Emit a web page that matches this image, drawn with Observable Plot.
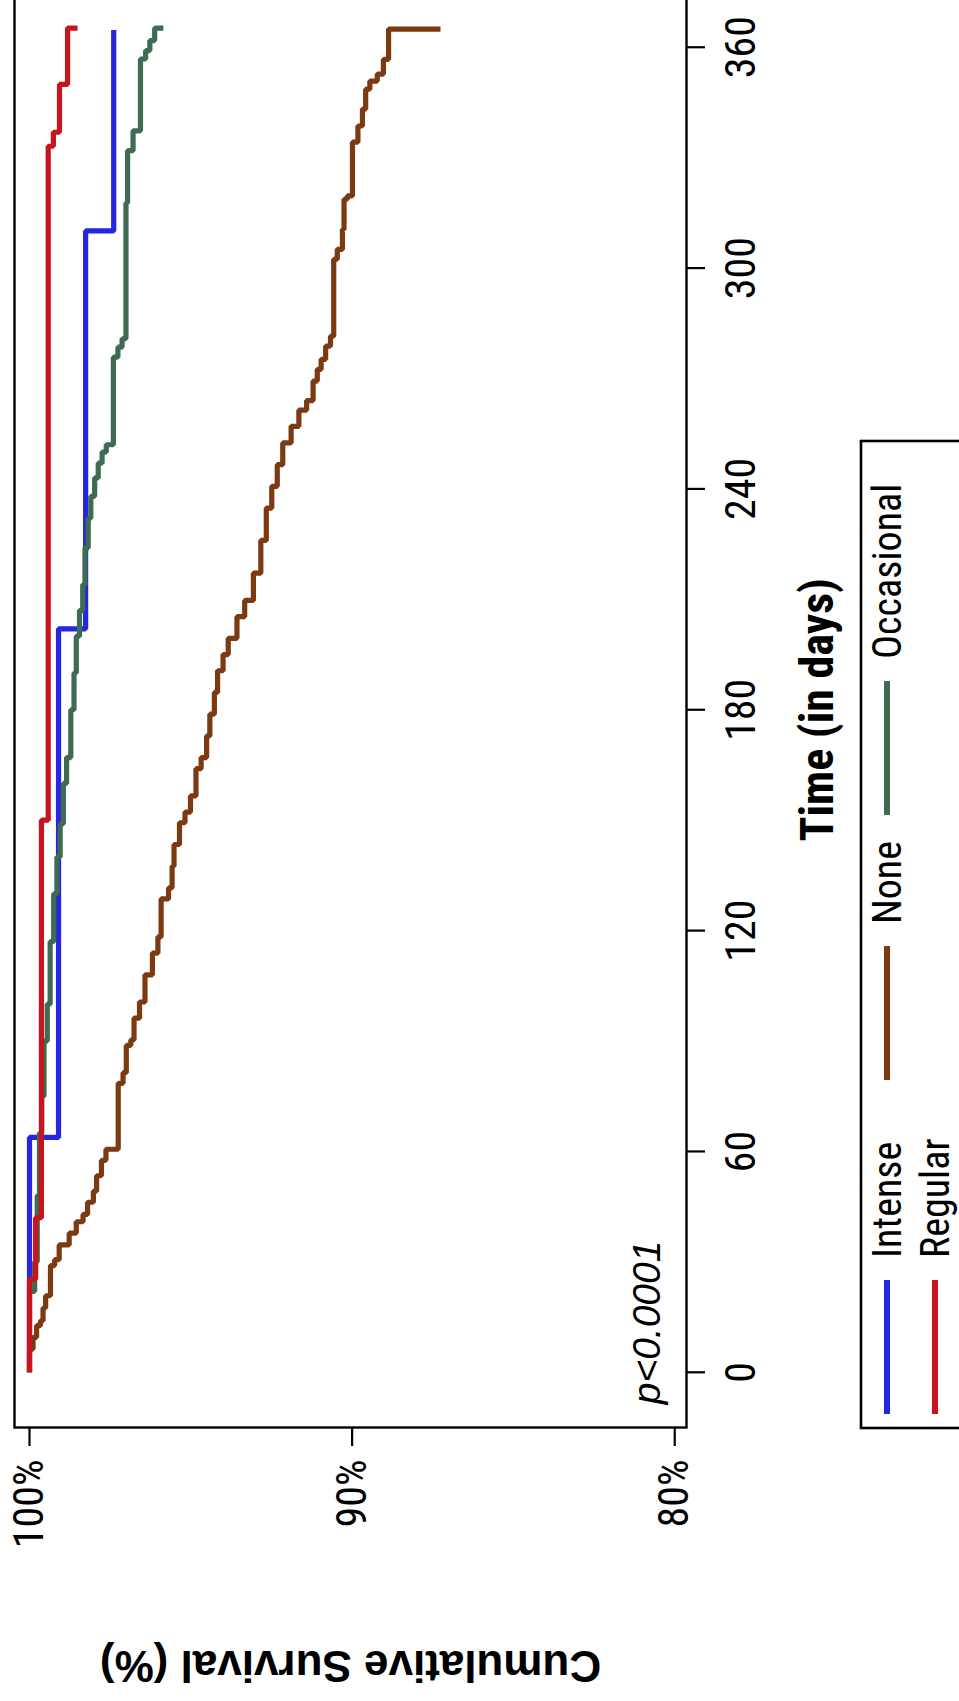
<!DOCTYPE html>
<html><head><meta charset="utf-8">
<script src="https://cdn.jsdelivr.net/npm/d3@7"></script>
<script src="https://cdn.jsdelivr.net/npm/@observablehq/plot@0.6"></script>
<style>
html,body{margin:0;padding:0;background:#fff;}
#page{position:relative;width:959px;height:1701px;overflow:hidden;background:#fff;}
#rot{position:absolute;left:0;top:0;width:1760px;height:959px;transform-origin:0 0;transform:translate(0px,1701px) rotate(-90deg);}
</style></head><body>
<div id="page"><div id="rot"></div></div>
<script>
const NARROW = "'Roboto Condensed','DejaVu Sans Condensed',sans-serif";
const REG = "'Liberation Sans',Arial,sans-serif";

// Groups, colours, ticks
const groups = ["Intense", "None", "Occasional", "Regular"];
const colors = ["#2626e2", "#7b3a12", "#3e6b52", "#c8141f"];
const timeTicks = [0, 60, 120, 180, 240, 300, 360];
const survTicks = [80, 90, 100];

// Kaplan-Meier step data: time (days) of each step and survival (%) after it
const intenseTime = [0, 63.8, 202, 310.1, 364.7];
const intenseSurv = [100, 99.10, 98.26, 97.39, 97.39];

const regularTime = [0, 25.3, 42, 150, 333.1, 336.9, 349.9, 365.2];
const regularSurv = [100, 99.81, 99.63, 99.42, 99.26, 99.07, 98.82, 98.51];

const occasionalTime = [0, 22, 30, 48, 65, 75, 90, 100, 117, 130, 140, 149, 160, 167, 180, 190, 200, 207, 214, 224, 232, 238, 243, 247, 250, 252, 275.8, 278.5, 280.8, 317.7, 331.9, 337.3, 356.8, 359.1, 361.8, 365.2];
const occasionalSurv = [100, 99.84, 99.76, 99.69, 99.62, 99.55, 99.45, 99.36, 99.25, 99.15, 99.05, 98.95, 98.85, 98.72, 98.62, 98.55, 98.45, 98.35, 98.28, 98.18, 98.10, 97.98, 97.87, 97.75, 97.62, 97.40, 97.26, 97.13, 97.01, 96.96, 96.79, 96.56, 96.40, 96.27, 96.12, 95.85];

const noneTime = [0, 6.3, 9.5, 12.7, 14, 17.5, 20.8, 29, 30.6, 34.6, 37.8, 40.9, 42.9, 46.2, 49.2, 53.4, 57.6, 60.6, 78.5, 81.4, 88.8, 90.3, 96.2, 100.6, 108, 113.9, 118.3, 128.6, 131.6, 137.5, 143.4, 149.3, 152.2, 156.6, 164, 167, 172.9, 178.8, 184.7, 190.6, 195, 199.4, 205.3, 209.7, 217.1, 226, 234.8, 240.7, 246.6, 252.5, 257, 261.4, 264, 269.3, 272.5, 275.2, 278.8, 281.5, 302.4, 305.1, 310.5, 318.7, 319.6, 334.2, 338.6, 343.2, 348.6, 350.8, 352.7, 356.7, 364.9];
const noneSurv = [100, 99.89, 99.78, 99.66, 99.58, 99.50, 99.35, 99.22, 99.08, 98.77, 98.55, 98.34, 98.20, 98.02, 97.92, 97.77, 97.63, 97.25, 97.10, 97.00, 96.86, 96.76, 96.59, 96.42, 96.19, 96.02, 95.92, 95.69, 95.58, 95.52, 95.35, 95.18, 95.01, 94.84, 94.68, 94.51, 94.41, 94.27, 94.17, 94.00, 93.84, 93.57, 93.33, 93.06, 92.83, 92.66, 92.49, 92.32, 92.15, 91.89, 91.65, 91.41, 91.21, 91.08, 90.96, 90.82, 90.67, 90.57, 90.46, 90.30, 90.25, 90.15, 89.99, 89.82, 89.68, 89.58, 89.45, 89.22, 89.03, 88.87, 87.26];

const series = {
  Intense: [intenseTime, intenseSurv],
  None: [noneTime, noneSurv],
  Occasional: [occasionalTime, occasionalSurv],
  Regular: [regularTime, regularSurv]
};
const rows = [];
for (const g of groups) {
  const [T, S] = series[g];
  T.forEach((t, i) => rows.push({group: g, t, s: S[i]}));
}

const chart = Plot.plot({
  width: 1760, height: 959,
  marginLeft: 273, marginRight: 0, marginTop: 14, marginBottom: 273,
  x: {domain: [-15, 389], label: null},
  y: {domain: [79.635, 100.465], label: null},
  color: {domain: groups, range: colors},
  style: {fontFamily: NARROW, background: "white", color: "black"},
  marks: [
    Plot.frame({stroke: "black", strokeWidth: 2.4}),
    Plot.axisX({ticks: timeTicks, tickSize: 19, tickPadding: 20, fontSize: 42, fontFamily: NARROW, strokeWidth: 2.2, label: null}),
    Plot.axisY({ticks: survTicks, tickSize: 18, tickPadding: 14, tickFormat: d => d + "%", fontSize: 42, fontFamily: NARROW, strokeWidth: 2.2, label: null}),
    Plot.line(rows, {x: "t", y: "s", z: "group", stroke: "group", curve: "step-after", strokeWidth: 5.2, strokeLinejoin: "miter", strokeLinecap: "butt"}),
    Plot.text(["p<0.0001"], {x: -8.7, y: 80.47, text: d => d, textAnchor: "start", lineAnchor: "bottom", fontStyle: "italic", fontSize: 39, fontFamily: REG}),
    Plot.text(["Time (in days)"], {x: 180, frameAnchor: "bottom", dy: 146, text: d => d, textAnchor: "middle", lineAnchor: "bottom", fontWeight: "bold", fontSize: 46, fontFamily: NARROW}),
    Plot.text(["Cumulative Survival (%)"], {frameAnchor: "left", dx: -223, rotate: -90, text: d => d, textAnchor: "middle", lineAnchor: "bottom", fontWeight: "bold", fontSize: 44, fontFamily: REG})
  ]
});

// Legend (layout only): three columns, two rows
const legendCols = [287, 621, 886];
const svg = d3.select(chart);
const lg = svg.append("g").attr("text-anchor", "start");
lg.append("rect").attr("x", 273).attr("y", 861).attr("width", 987).attr("height", 220)
  .attr("fill", "none").attr("stroke", "black").attr("stroke-width", 2.6);
groups.forEach((g, i) => {
  const col = i % 3, row = Math.floor(i / 3);
  const u0 = legendCols[col], v = 887 + row * 48;
  lg.append("line").attr("x1", u0).attr("x2", u0 + 134).attr("y1", v).attr("y2", v)
    .attr("stroke", colors[i]).attr("stroke-width", 6);
  lg.append("text").attr("x", u0 + 156).attr("y", v + 14).attr("font-size", 40)
    .attr("font-family", NARROW).attr("text-anchor", "start").attr("fill", "black").text(g);
});

document.getElementById("rot").appendChild(chart);
</script>
</body></html>
